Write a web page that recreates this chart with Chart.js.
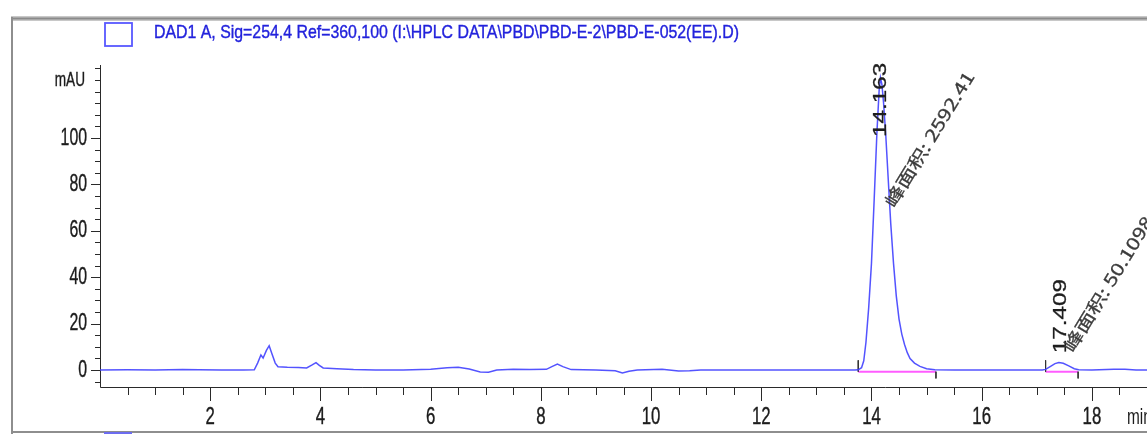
<!DOCTYPE html>
<html>
<head>
<meta charset="utf-8">
<script src="https://cdn.jsdelivr.net/npm/chart.js@4.4.1/dist/chart.umd.min.js"></script>
<style>
  html, body { margin: 0; padding: 0; background: #fff; overflow: hidden; }
  canvas { display: block; }
</style>
</head>
<body>
<canvas id="chrom" width="1147" height="434"></canvas>
<script>
// DAD1 A trace, retention time (min) vs absorbance (mAU)
const traceTimes = [
  0.00, 0.50, 1.00, 1.50, 1.80, 2.20, 2.60, 2.80, 2.86, 2.92, 2.96, 3.02, 3.07, 3.12, 3.18, 3.23,
  3.40, 3.60, 3.75, 3.85, 3.92, 3.98, 4.05, 4.30, 4.60, 5.00, 5.50, 6.00, 6.30, 6.50, 6.70, 6.90,
  7.05, 7.20, 7.50, 7.80, 8.10, 8.20, 8.30, 8.40, 8.55, 9.00, 9.35, 9.48, 9.60, 9.75, 10.20, 10.50,
  10.70, 10.90, 12.00, 13.00, 13.70, 13.76, 13.82, 13.86, 13.90, 13.95, 14.00, 14.05, 14.10, 14.14,
  14.163, 14.19, 14.22, 14.26, 14.30, 14.35, 14.40, 14.45, 14.50, 14.55, 14.60, 14.65, 14.70, 14.78,
  14.88, 15.00, 15.15, 15.50, 16.50, 17.10, 17.16, 17.25, 17.33, 17.40, 17.48, 17.58, 17.68, 17.76,
  18.00, 18.40, 18.60, 18.80, 19.00
];
const traceMAU = [
  0, 0.1, 0, 0.2, 0.1, 0, 0, 0.1, 3, 6.5, 5.2, 8.5, 10.5, 7, 3, 1.4,
  1.2, 1.1, 0.9, 2.2, 3.2, 2, 0.9, 0.6, 0.2, 0, 0, 0.4, 1.0, 1.2, 0.5, -0.8,
  -0.9, 0, 0.4, 0.2, 0.3, 1.5, 2.6, 1.5, 0.2, 0, -0.3, -1.3, -0.5, 0, 0.3, -0.4,
  -0.3, 0, 0, 0, 0, 0.1, 1, 4, 12, 27, 46, 74, 103, 121,
  126, 123, 115, 101, 84, 63, 46, 32, 22, 15.5, 11, 7.5, 5, 3,
  1.6, 0.6, 0.1, 0, 0, 0, 0.3, 1.6, 2.8, 3.3, 2.9, 1.8, 0.6, 0.1,
  0, 0.3, 0.4, 0, 0
];

// integrated peaks
const peakRT = [14.163, 17.409];
const peakStart = [13.76, 17.16];
const peakEnd = [15.17, 17.75];
const peakArea = ['2592.41', '50.1098'];

const xTickLabels = [2, 4, 6, 8, 10, 12, 14, 16, 18];
const yTickLabels = [0, 20, 40, 60, 80, 100];
const signalName = 'DAD1 A, Sig=254,4 Ref=360,100 (I:\\HPLC DATA\\PBD\\PBD-E-2\\PBD-E-052(EE).D)';

const X_MIN = 0, X_MAX = 19, Y_MIN = -7.3, Y_MAX = 131.5;
const BASE_Y = -0.7;

const trace = traceTimes.map((t, i) => ({ x: t, y: traceMAU[i] }));

// integration baselines plus the start/end tick marks
const extraSets = [];
peakStart.forEach((s, i) => {
  extraSets.push({
    data: [{ x: s, y: BASE_Y }, { x: peakEnd[i], y: BASE_Y }],
    borderColor: '#ff5cff', borderWidth: 2, order: 3
  });
  extraSets.push({
    data: [{ x: s, y: 4.2 }, { x: s, y: BASE_Y }],
    borderColor: '#333', borderWidth: 1, order: 2
  });
  extraSets.push({
    data: [{ x: peakEnd[i], y: BASE_Y }, { x: peakEnd[i], y: -3.6 }],
    borderColor: '#333', borderWidth: 1, order: 2
  });
});

// text with horizontal squeeze/stretch, optionally rotated
function drawText(ctx, text, x, y, opts) {
  ctx.save();
  ctx.translate(x, y);
  if (opts.angle) ctx.rotate(opts.angle);
  ctx.font = opts.font;
  ctx.fillStyle = opts.color;
  ctx.textAlign = opts.align || 'left';
  ctx.textBaseline = opts.baseline || 'middle';
  let sx = opts.sx || 1;
  if (opts.width) sx = opts.width / ctx.measureText(text).width;
  ctx.scale(sx, 1);
  ctx.fillText(text, 0, 0);
  if (opts.heavy) {
    ctx.strokeStyle = opts.color;
    ctx.lineWidth = opts.heavy;
    ctx.strokeText(text, 0, 0);
  }
  ctx.restore();
}

const chemPlugin = {
  id: 'chemPlugin',
  beforeDatasetsDraw(chart) {
    const ctx = chart.ctx;
    const xs = chart.scales.x, ys = chart.scales.y;
    const area = chart.chartArea;
    ctx.save();

    // window frame
    ctx.fillStyle = '#c8c8c8';
    ctx.fillRect(11, 16, 1136, 5);
    ctx.fillStyle = '#8a8a8a';
    ctx.fillRect(11, 17.5, 1136, 2);
    ctx.fillStyle = '#8e8e8e';
    ctx.fillRect(11, 17, 2, 417);
    ctx.fillRect(11, 431, 1136, 2);
    ctx.fillStyle = '#6c6cf0';
    ctx.fillRect(104, 432, 28, 2);

    // legend
    ctx.strokeStyle = '#5858ff';
    ctx.lineWidth = 1.8;
    ctx.strokeRect(105, 23, 27, 23);
    drawText(ctx, signalName, 154, 33, { font: '19px Arial', color: '#2222dc', width: 585, heavy: 0.4 });

    // axis lines
    ctx.strokeStyle = '#2a2a2a';
    ctx.lineWidth = 1;
    ctx.beginPath();
    ctx.moveTo(area.left + 0.5, area.top);
    ctx.lineTo(area.left + 0.5, area.bottom + 0.5);
    ctx.lineTo(area.right, area.bottom + 0.5);
    ctx.stroke();

    // x ticks every 0.5 min, longer at labelled values
    ctx.beginPath();
    for (let v = 0.5; v <= X_MAX; v += 0.5) {
      const px = Math.round(xs.getPixelForValue(v)) + 0.5;
      const len = xTickLabels.includes(v) ? 14 : 8;
      ctx.moveTo(px, area.bottom);
      ctx.lineTo(px, area.bottom + len);
    }
    // y ticks every 5 mAU
    for (let v = -5; v <= 130; v += 5) {
      const py = Math.round(ys.getPixelForValue(v)) + 0.5;
      const len = yTickLabels.includes(v) ? 9 : 5;
      ctx.moveTo(area.left, py);
      ctx.lineTo(area.left - len, py);
    }
    ctx.stroke();

    xTickLabels.forEach(v => {
      drawText(ctx, String(v), xs.getPixelForValue(v), 417,
        { font: '24px Arial', color: '#1c1c1c', align: 'center', sx: 0.7, heavy: 0.4 });
    });
    yTickLabels.forEach(v => {
      drawText(ctx, String(v), 87, ys.getPixelForValue(v),
        { font: '24px Arial', color: '#1c1c1c', align: 'right', sx: 0.66, heavy: 0.4 });
    });
    drawText(ctx, 'mAU', 85, 80, { font: '20px Arial', color: '#1c1c1c', align: 'right', sx: 0.68, heavy: 0.4 });
    drawText(ctx, 'min', 1127, 418, { font: '22px Arial', color: '#1c1c1c', sx: 0.7 });
    ctx.restore();
  },
  afterDatasetsDraw(chart) {
    const ctx = chart.ctx;
    const xs = chart.scales.x, ys = chart.scales.y;
    // label anchors: [rt label base (mAU), area label start (mAU)]
    const anchors = [[100.5, 71], [7.3, 8.6]];
    peakRT.forEach((rt, i) => {
      const px = xs.getPixelForValue(rt);
      drawText(ctx, rt.toFixed(3), px + (i ? 2 : 0.5), ys.getPixelForValue(anchors[i][0]),
        { font: '18px Arial', color: '#1e1e1e', angle: -Math.PI / 2, width: 74, heavy: 0.3 });
      drawText(ctx, '峰面积: ' + peakArea[i], px + 8.5, ys.getPixelForValue(anchors[i][1]),
        { font: '17px "Noto Sans CJK SC"', color: '#3c3c3c', angle: -58.6 * Math.PI / 180, width: 155, heavy: 0.3 });
    });
  }
};

new Chart(document.getElementById('chrom'), {
  type: 'line',
  data: {
    datasets: [
      { data: trace, borderColor: 'rgba(64,64,255,0.9)', borderWidth: 1.5, order: 1 },
      ...extraSets
    ]
  },
  options: {
    responsive: false,
    animation: false,
    layout: { padding: { left: 100, top: 65, right: 0, bottom: 47 } },
    elements: { point: { radius: 0 }, line: { tension: 0 } },
    plugins: { legend: { display: false }, tooltip: { enabled: false } },
    scales: {
      x: { type: 'linear', display: false, min: X_MIN, max: X_MAX },
      y: { display: false, min: Y_MIN, max: Y_MAX }
    }
  },
  plugins: [chemPlugin]
});
</script>
</body>
</html>
